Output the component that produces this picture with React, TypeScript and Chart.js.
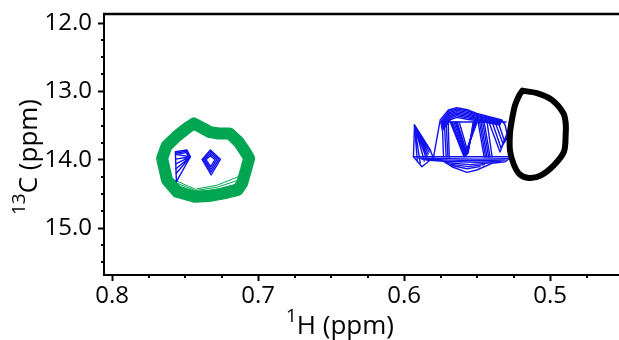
import React, { useEffect, useRef } from "react";
import { Chart, registerables } from "chart.js";

Chart.register(...registerables);

type P = [number, number];

// Axis ranges and ticks
const X_RANGE: P = [0.4528, 0.8056];
const Y_RANGE: P = [11.868, 15.684];
const X_TICKS = [0.8, 0.7, 0.6, 0.5];
const Y_TICKS = [12.0, 13.0, 14.0, 15.0];
const X_MINOR = [0.775, 0.75, 0.725, 0.675, 0.65, 0.625, 0.575, 0.55, 0.525, 0.475];
const Y_MINOR = [12.25, 12.5, 12.75, 13.25, 13.5, 13.75, 14.25, 14.5, 14.75, 15.25, 15.5];
const X_TITLE = ["1", "H (ppm)"];
const Y_TITLE = ["13", "C (ppm)"];

// Black contour
const BLACK_RING: P[] = [
  [0.5190, 12.990], [0.509, 13.025], [0.4988, 13.125], [0.4909, 13.32], [0.4893, 13.47],
  [0.4893, 13.615], [0.4905, 13.88], [0.4975, 14.08], [0.5066, 14.23], [0.5146, 14.265],
  [0.5212, 14.205], [0.5252, 14.05], [0.5275, 13.86], [0.5275, 13.615], [0.5262, 13.42],
  [0.5240, 13.2], [0.5210, 13.05], [0.5190, 12.990],
];

// Green contour
const GREEN_RING: P[] = [
  [0.744, 13.47], [0.733, 13.595], [0.727, 13.615], [0.7195, 13.615], [0.7133, 13.74],
  [0.708, 13.91], [0.7062, 13.98], [0.7085, 14.16], [0.711, 14.345], [0.714, 14.44],
  [0.7236, 14.49], [0.7339, 14.53], [0.7435, 14.54], [0.7555, 14.467], [0.7624, 14.296],
  [0.7658, 13.98], [0.7628, 13.80], [0.7558, 13.655], [0.7478, 13.52], [0.744, 13.47],
];
const GREEN_H1: P[] = [[0.757, 14.3], [0.743, 14.43], [0.728, 14.37], [0.714, 14.25]];
const GREEN_H2: P[] = [[0.757, 14.33], [0.743, 14.45], [0.728, 14.4], [0.714, 14.3]];
const GREEN_H3: P[] = [[0.757, 14.36], [0.743, 14.47], [0.728, 14.43], [0.714, 14.35]];
const GREEN_H4: P[] = [[0.7565, 14.39], [0.743, 14.49], [0.728, 14.46], [0.714, 14.40]];

// Blue contours (right peak)
const BLUE_OUTLINE: P[] = [
  [0.5753, 13.418], [0.5696, 13.272], [0.5639, 13.238], [0.5559, 13.272], [0.5502, 13.32],
  [0.5331, 13.418], [0.5308, 13.491], [0.5262, 13.955], [0.5308, 14.028], [0.5399, 14.051],
  [0.5502, 14.149], [0.557, 14.183], [0.5673, 14.101], [0.5741, 14.003], [0.5821, 14.003],
  [0.5878, 14.101], [0.5936, 13.955], [0.5929, 13.491], [0.5821, 13.857], [0.58, 13.974],
  [0.5753, 13.418],
];
const BLUE_T1: P[] = [[0.5750, 13.45], [0.5693, 13.29], [0.5639, 13.255], [0.5559, 13.29], [0.5502, 13.335], [0.5333, 13.43]];
const BLUE_T2: P[] = [[0.5748, 13.47], [0.5691, 13.31], [0.5639, 13.275], [0.5559, 13.31], [0.5502, 13.35], [0.5335, 13.44]];
const BLUE_T3: P[] = [[0.5746, 13.49], [0.5689, 13.33], [0.5639, 13.295], [0.5559, 13.33], [0.5502, 13.365], [0.5337, 13.45]];
const BLUE_T4: P[] = [[0.5744, 13.51], [0.5687, 13.35], [0.5639, 13.315], [0.5559, 13.35], [0.5502, 13.38], [0.5339, 13.46]];
const BLUE_T5: P[] = [[0.5742, 13.53], [0.5685, 13.37], [0.5639, 13.335], [0.5559, 13.37], [0.5502, 13.395], [0.5341, 13.47]];
const BLUE_T6: P[] = [[0.5740, 13.55], [0.5683, 13.39], [0.5639, 13.355], [0.5559, 13.39], [0.5502, 13.41], [0.5343, 13.48]];
const BLUE_T7: P[] = [[0.5738, 13.57], [0.5681, 13.41], [0.5639, 13.38], [0.5559, 13.41], [0.5502, 13.425], [0.5345, 13.49]];
const BLUE_TOPLINE: P[] = [[0.5736, 13.447], [0.5302, 13.447]];
const BLUE_Z1: P[] = [[0.5684, 13.447], [0.5589, 13.959], [0.55, 13.447]];
const BLUE_Z2: P[] = [[0.5677, 13.447], [0.5585, 13.95], [0.5503, 13.447]];
const BLUE_Z3: P[] = [[0.5671, 13.447], [0.5582, 13.944], [0.5507, 13.447]];
const BLUE_Z4: P[] = [[0.5660, 13.447], [0.5578, 13.937], [0.551, 13.447]];
const BLUE_Z5: P[] = [[0.565, 13.447], [0.5575, 13.93], [0.5513, 13.447]];
const BLUE_Z6: P[] = [[0.5643, 13.447], [0.5571, 13.922], [0.5516, 13.447]];
const BLUE_Z7: P[] = [[0.5637, 13.447], [0.5568, 13.915], [0.552, 13.447]];
const BLUE_Z8: P[] = [[0.5623, 13.447], [0.5561, 13.901], [0.5527, 13.447]];
const BLUE_V1: P[] = [[0.5739, 13.447], [0.5730, 13.959]];
const BLUE_V2: P[] = [[0.5725, 13.447], [0.5712, 13.959]];
const BLUE_V3: P[] = [[0.5712, 13.447], [0.5700, 13.959]];
const BLUE_V4: P[] = [[0.5698, 13.447], [0.5691, 13.959]];
const BLUE_S1: P[] = [[0.5493, 13.447], [0.5452, 13.959]];
const BLUE_S2: P[] = [[0.5483, 13.447], [0.5442, 13.959]];
const BLUE_S3: P[] = [[0.5473, 13.447], [0.5432, 13.959]];
const BLUE_S4: P[] = [[0.5462, 13.447], [0.5421, 13.959]];
const BLUE_S5: P[] = [[0.5452, 13.447], [0.5411, 13.959]];
const BLUE_S6: P[] = [[0.5432, 13.447], [0.5397, 13.959]];
const BLUE_C1: P[] = [[0.5419, 13.447], [0.5343, 13.886], [0.5281, 13.535]];
const BLUE_C2: P[] = [[0.5397, 13.447], [0.5336, 13.827], [0.5281, 13.579]];
const BLUE_C3: P[] = [[0.5377, 13.447], [0.5322, 13.769], [0.5274, 13.623]];
const BLUE_C4: P[] = [[0.5356, 13.447], [0.5315, 13.711], [0.5274, 13.667]];
const BLUE_L1: P[] = [[0.5936, 13.955], [0.5262, 13.955]];
const BLUE_L2: P[] = [[0.59, 13.975], [0.57, 13.985], [0.55, 13.99], [0.529, 13.985]];
const BLUE_L3: P[] = [[0.5880, 13.99], [0.57, 14.005], [0.55, 14.01], [0.531, 14.005]];
const BLUE_L4: P[] = [[0.585, 14.005], [0.57, 14.025], [0.55, 14.035], [0.534, 14.025]];
const BLUE_L5: P[] = [[0.572, 14.04], [0.555, 14.07], [0.540, 14.045]];
const BLUE_L6: P[] = [[0.570, 14.06], [0.556, 14.10], [0.545, 14.07]];
const BLUE_L7: P[] = [[0.568, 14.08], [0.557, 14.13], [0.548, 14.1]];
const BLUE_FAN: P[] = [
  [0.5929, 13.491], [0.5821, 13.857], [0.5929, 13.491], [0.5828, 13.886], [0.5929, 13.491],
  [0.5835, 13.915], [0.5929, 13.491], [0.5842, 13.945], [0.5929, 13.491], [0.5849, 13.974],
  [0.5929, 13.491], [0.5862, 14.018], [0.5929, 13.491], [0.589, 14.047], [0.5929, 13.491],
  [0.591, 14.003],
];

// Blue contours (inside green ring)
const BLUE_LEFT_OUT: P[] = [[0.7567, 13.882], [0.7487, 13.857], [0.7464, 13.955], [0.756, 14.32], [0.7567, 13.882]];
const BLUE_LEFT_TOP1: P[] = [[0.7565, 13.9], [0.749, 13.875], [0.747, 13.955]];
const BLUE_LEFT_TOP2: P[] = [[0.7563, 13.92], [0.7493, 13.895], [0.7476, 13.955]];
const BLUE_LEFT_FAN: P[] = [
  [0.7464, 13.955], [0.7566, 13.92], [0.7464, 13.955], [0.7565, 13.99], [0.7464, 13.955],
  [0.7564, 14.06], [0.7464, 13.955], [0.7563, 14.13], [0.7464, 13.955], [0.7562, 14.2],
];
const BLUE_D1: P[] = [[0.7327, 13.857], [0.7259, 13.993], [0.7322, 14.222], [0.7384, 13.993], [0.7327, 13.857]];
const BLUE_D2: P[] = [[0.7327, 13.88], [0.727, 13.993], [0.7323, 14.18], [0.7376, 13.993], [0.7327, 13.88]];
const BLUE_D3: P[] = [[0.7327, 13.91], [0.7282, 13.995], [0.7324, 14.14], [0.7368, 13.995], [0.7327, 13.91]];
const BLUE_D4: P[] = [[0.7327, 13.94], [0.7295, 13.997], [0.7325, 14.1], [0.7358, 13.997], [0.7327, 13.94]];

const BLUE_SETS: P[][] = [
  BLUE_OUTLINE, BLUE_T1, BLUE_T2, BLUE_T3, BLUE_T4, BLUE_T5, BLUE_T6, BLUE_T7, BLUE_TOPLINE,
  BLUE_Z1, BLUE_Z2, BLUE_Z3, BLUE_Z4, BLUE_Z5, BLUE_Z6, BLUE_Z7, BLUE_Z8,
  BLUE_V1, BLUE_V2, BLUE_V3, BLUE_V4, BLUE_S1, BLUE_S2, BLUE_S3, BLUE_S4, BLUE_S5, BLUE_S6,
  BLUE_C1, BLUE_C2, BLUE_C3, BLUE_C4,
  BLUE_L1, BLUE_L2, BLUE_L3, BLUE_L4, BLUE_L5, BLUE_L6, BLUE_L7, BLUE_FAN,
  BLUE_LEFT_OUT, BLUE_LEFT_TOP1, BLUE_LEFT_TOP2, BLUE_LEFT_FAN, BLUE_D1, BLUE_D2, BLUE_D3, BLUE_D4,
];
const GREEN_THIN: P[][] = [GREEN_H1, GREEN_H2, GREEN_H3, GREEN_H4];

const BLUE = "#1010f0";
const GREEN = "#00a651";
const FONT = "'Open Sans', 'Noto Sans', sans-serif";

const toPts = (arr: P[]) => arr.map(([x, y]) => ({ x, y }));

const line = (arr: P[], color: string, width: number, tension = 0) => ({
  data: toPts(arr),
  showLine: true,
  borderColor: color,
  backgroundColor: color,
  borderWidth: width,
  pointRadius: 0,
  tension,
  borderJoinStyle: "round" as const,
  borderCapStyle: "round" as const,
  fill: false,
});

const decorPlugin = {
  id: "decor",
  afterDraw(chart: any) {
    const ctx = chart.ctx as CanvasRenderingContext2D;
    const { left, right, top, bottom } = chart.chartArea;
    const xs = chart.scales.x;
    const ys = chart.scales.y;
    ctx.save();
    ctx.strokeStyle = "#000";
    ctx.lineWidth = 2.5;
    ctx.beginPath();
    ctx.moveTo(left - 1, top);
    ctx.lineTo(right, top);
    ctx.stroke();
    ctx.lineWidth = 2;
    ctx.beginPath();
    for (const v of X_MINOR) {
      const px = Math.round(xs.getPixelForValue(v));
      ctx.moveTo(px, bottom);
      ctx.lineTo(px, bottom + 3);
    }
    for (const v of Y_MINOR) {
      const py = Math.round(ys.getPixelForValue(v));
      ctx.moveTo(left, py);
      ctx.lineTo(left - 3, py);
    }
    ctx.stroke();

    ctx.fillStyle = "#000";
    ctx.textBaseline = "alphabetic";
    const big = 26;
    const small = 19;
    // x title
    ctx.font = `${small}px ${FONT}`;
    const wx1 = ctx.measureText(X_TITLE[0]).width;
    ctx.font = `${big}px ${FONT}`;
    const wx2 = ctx.measureText(X_TITLE[1]).width;
    const cx = 340;
    const by = 334;
    let sx = cx - (wx1 + wx2) / 2;
    ctx.font = `${small}px ${FONT}`;
    ctx.fillText(X_TITLE[0], sx, by - 12);
    ctx.font = `${big}px ${FONT}`;
    ctx.fillText(X_TITLE[1], sx + wx1, by);
    // y title
    ctx.translate(37, 157);
    ctx.rotate(-Math.PI / 2);
    ctx.font = `${small}px ${FONT}`;
    const wy1 = ctx.measureText(Y_TITLE[0]).width;
    ctx.font = `${big}px ${FONT}`;
    const wy2 = ctx.measureText(Y_TITLE[1]).width;
    const sy = -(wy1 + wy2) / 2;
    ctx.font = `${small}px ${FONT}`;
    ctx.fillText(Y_TITLE[0], sy, -12);
    ctx.font = `${big}px ${FONT}`;
    ctx.fillText(Y_TITLE[1], sy + wy1, 0);
    ctx.restore();
  },
};

export default function App() {
  const ref = useRef<HTMLCanvasElement | null>(null);
  useEffect(() => {
    if (!ref.current) return;
    const datasets: any[] = [
      line(BLACK_RING, "#000", 6, 0.3),
      ...BLUE_SETS.map((s) => line(s, BLUE, 1.4)),
      ...GREEN_THIN.map((s) => line(s, GREEN, 1)),
      line(GREEN_RING, GREEN, 12, 0),
    ];
    const chart = new Chart(ref.current, {
      type: "scatter",
      data: { datasets },
      plugins: [decorPlugin],
      options: {
        animation: false,
        responsive: false,
        devicePixelRatio: 1,
        layout: { padding: { top: 14, right: 0, left: 0, bottom: 0 } },
        plugins: { legend: { display: false }, tooltip: { enabled: false } },
        scales: {
          x: {
            type: "linear",
            reverse: true,
            min: X_RANGE[0],
            max: X_RANGE[1],
            afterBuildTicks: (s: any) => {
              s.ticks = X_TICKS.map((v) => ({ value: v }));
            },
            afterFit: (s: any) => {
              s.height = 65;
              s.paddingLeft = 0;
              s.paddingRight = 0;
            },
            grid: { drawOnChartArea: false, drawTicks: true, tickLength: 6, tickWidth: 2, tickColor: "#000" },
            border: { display: true, color: "#000", width: 2 },
            ticks: {
              color: "#000",
              padding: 1,
              font: { family: FONT, size: 24 },
              callback: (v: any) => Number(v).toFixed(1),
            },
          },
          y: {
            type: "linear",
            reverse: true,
            min: Y_RANGE[0],
            max: Y_RANGE[1],
            afterBuildTicks: (s: any) => {
              s.ticks = Y_TICKS.map((v) => ({ value: v }));
            },
            afterFit: (s: any) => {
              s.width = 104;
              s.paddingTop = 0;
              s.paddingBottom = 0;
            },
            grid: { drawOnChartArea: false, drawTicks: true, tickLength: 6, tickWidth: 2, tickColor: "#000" },
            border: { display: true, color: "#000", width: 2 },
            ticks: {
              color: "#000",
              padding: 6,
              font: { family: FONT, size: 24 },
              callback: (v: any) => Number(v).toFixed(1),
            },
          },
        },
      },
    });
    return () => chart.destroy();
  }, []);
  return (
    <div style={{ position: "fixed", left: 0, top: 0, width: 619, height: 340, background: "#fff" }}>
      <canvas ref={ref} width={619} height={340} style={{ display: "block" }} />
    </div>
  );
}
